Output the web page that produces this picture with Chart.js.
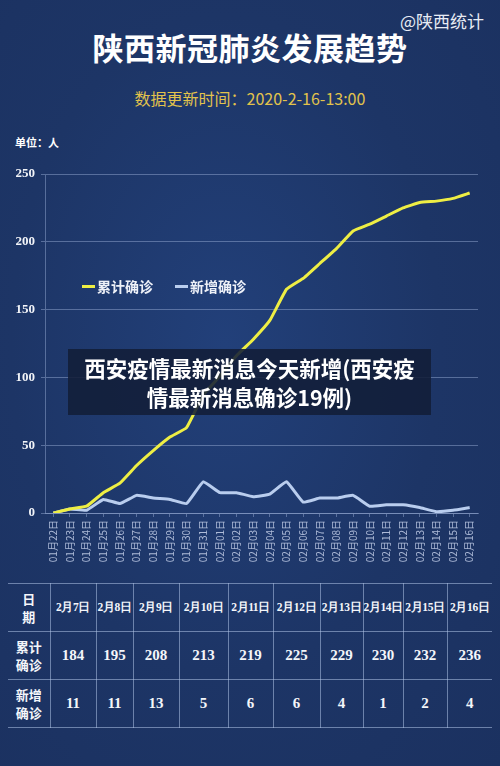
<!DOCTYPE html>
<html>
<head>
<meta charset="utf-8">
<script src="https://cdn.jsdelivr.net/npm/chart.js@4"></script>
<style>
  html, body { margin: 0; padding: 0; }
  body {
    width: 500px; height: 766px; position: relative; overflow: hidden;
    background: radial-gradient(ellipse at 45% 45%, #22407a 0%, #1d3566 55%, #1b3160 100%);
    font-family: "Noto Sans CJK SC", sans-serif; color: #fff;
  }
  .abs { position: absolute; }
  .source { top: 8px; right: 16px; font-size: 17px; color: #e8ecf4; }
  .title { top: 24px; left: 0; width: 500px; text-align: center; font-size: 31px; font-weight: bold; letter-spacing: 0.5px; }
  .updated { top: 86px; left: 0; width: 500px; text-align: center; font-size: 16px; color: #e2c34c; }
  .unit { top: 134px; left: 15px; font-size: 11px; font-weight: bold; }
  .legend { top: 276px; left: 82px; font-size: 14px; font-weight: bold; color: #eef1f8; display: flex; gap: 22px; }
  .legend span { display: flex; align-items: center; }
  .legend i { display: inline-block; width: 13px; height: 3px; margin-right: 2px; }
  .overlay {
    top: 349px; left: 68px; width: 363px; height: 66px; background: rgba(18, 30, 56, 0.88);
    font-size: 21.5px; font-weight: bold; text-align: center; line-height: 29px; padding-top: 4px; box-sizing: border-box;
  }
  table.data { top: 583px; left: 8px; width: 484px; border-collapse: collapse; table-layout: fixed; }
  table.data td { border: 1px solid rgba(175, 195, 230, 0.55); text-align: center; padding: 0; height: 47px; white-space: nowrap;
    font-family: "Liberation Serif", serif; font-weight: bold; font-size: 15px; color: #f4f6fa; }
  table.data tr td:first-child { border-left: none; font-family: "Noto Sans CJK SC", sans-serif; font-size: 13px; line-height: 18px; }
  table.data tr td:last-child { border-right: none; }
  table.data tr:first-child td { font-size: 11.5px; letter-spacing: -0.4px; }
  table.data tr:first-child td:first-child { font-size: 13px; letter-spacing: 0; }
</style>
</head>
<body>
<div class="abs source">@陕西统计</div>
<div class="abs title">陕西新冠肺炎发展趋势</div>
<div class="abs updated">数据更新时间：2020-2-16-13:00</div>
<div class="abs unit">单位：人</div>
<canvas id="chart" class="abs" style="left:0;top:160px" width="500" height="403"></canvas>
<div class="abs legend">
  <span><i style="background:#eeee44"></i>累计确诊</span>
  <span><i style="background:#b9cdee"></i>新增确诊</span>
</div>
<div class="abs overlay">西安疫情最新消息今天新增(西安疫<br>情最新消息确诊19例)</div>
<table class="abs data" id="table"></table>
<script>
const dates = ['01月22日','01月23日','01月24日','01月25日','01月26日','01月27日','01月28日','01月29日','01月30日','01月31日',
  '02月01日','02月02日','02月03日','02月04日','02月05日','02月06日','02月07日','02月08日','02月09日','02月10日',
  '02月11日','02月12日','02月13日','02月14日','02月15日','02月16日'];
const totalCases = [0, 3, 5, 15, 22, 35, 46, 56, 63, 87, 101, 116, 128, 142, 165, 173, 184, 195, 208, 213, 219, 225, 229, 230, 232, 236];
const newCases = [0, 3, 2, 10, 7, 13, 11, 10, 7, 23, 15, 15, 12, 14, 23, 8, 11, 11, 13, 5, 6, 6, 4, 1, 2, 4];
const tableDates = ['2月7日','2月8日','2月9日','2月10日','2月11日','2月12日','2月13日','2月14日','2月15日','2月16日'];
const colWidths = [42, 46, 37, 46, 49, 45, 47, 43, 40, 44, 45];

// table under the chart uses the last ten days of the same data
const n = tableDates.length;
const rows = [
  ['日<br>期', ...tableDates],
  ['累计<br>确诊', ...totalCases.slice(-n)],
  ['新增<br>确诊', ...newCases.slice(-n)]
];
const table = document.getElementById('table');
table.innerHTML = '<colgroup>' + colWidths.map(w => `<col style="width:${w}px">`).join('') + '</colgroup>' +
  rows.map(r => '<tr>' + r.map(c => `<td>${c}</td>`).join('') + '</tr>').join('');

const gridColor = 'rgba(160, 180, 220, 0.45)';

new Chart(document.getElementById('chart').getContext('2d'), {
  type: 'line',
  data: {
    labels: dates,
    datasets: [
      {
        label: '累计确诊',
        data: totalCases,
        borderColor: '#eeee44',
        borderWidth: 3,
        pointRadius: 0,
        tension: 0.1
      },
      {
        label: '新增确诊',
        data: newCases,
        borderColor: '#b9cdee',
        borderWidth: 3,
        pointRadius: 0,
        tension: 0.1
      }
    ]
  },
  options: {
    responsive: false,
    animation: false,
    layout: { padding: { top: 14, right: 22, bottom: 0, left: 0 } },
    plugins: { legend: { display: false }, tooltip: { enabled: false } },
    scales: {
      x: {
        offset: true,
        afterFit(scale) { scale.height = 50; },
        grid: { drawOnChartArea: false, color: gridColor, tickLength: 4 },
        border: { color: gridColor },
        ticks: {
          autoSkip: false, minRotation: 90, maxRotation: 90, padding: 3,
          color: '#aebbd8', font: { size: 10, family: 'Noto Sans CJK SC' }
        }
      },
      y: {
        min: 0, max: 250,
        afterFit(scale) { scale.width = 45; },
        grid: { color: gridColor, tickLength: 4 },
        border: { color: gridColor },
        ticks: {
          stepSize: 50, padding: 6,
          color: '#f2f4f8', font: { size: 13, weight: 'bold', family: 'Liberation Serif' }
        }
      }
    }
  }
});
</script>
</body>
</html>
